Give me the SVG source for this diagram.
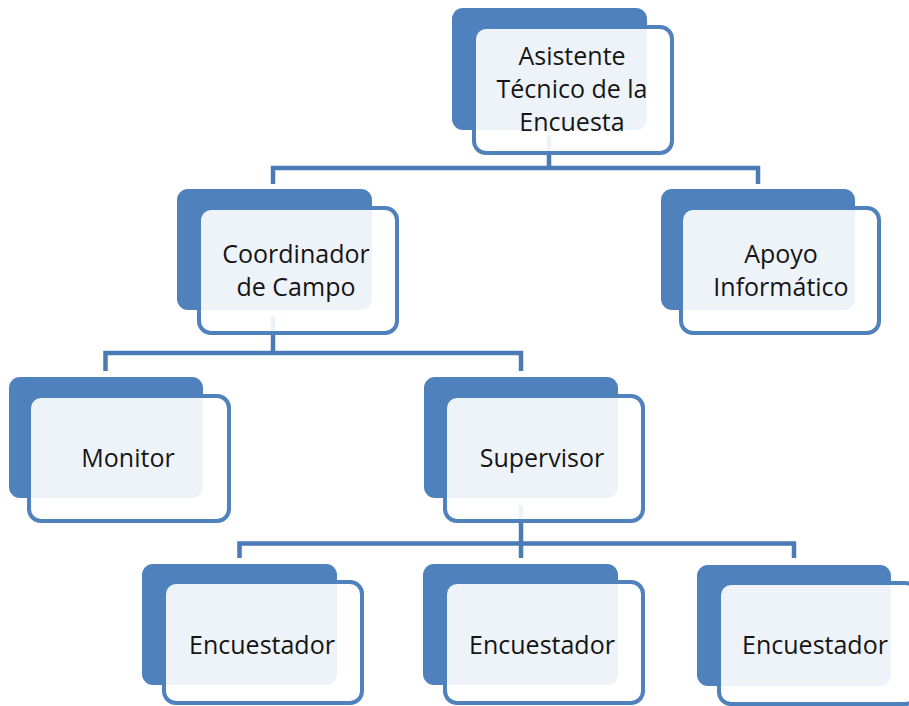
<svg xmlns="http://www.w3.org/2000/svg" width="909" height="706" viewBox="0 0 909 706">
<style>
.back{fill:#4F81BD}
.front{fill:#FFFFFF;fill-opacity:0.9;stroke:#4F81BD;stroke-width:4}
.lbl{font-family:"Open Sans","Noto Sans",sans-serif;font-size:25px;fill:#151515;text-anchor:middle}
.conn{fill:none;stroke:#4A7BB7;stroke-width:4.5;stroke-linejoin:miter}
</style>
<rect width="909" height="706" fill="#FFFFFF"/>
<g id="connectors">
<path class="conn" d="M549,135 V168"/>
<path class="conn" d="M273,184 V168 H758 V184"/>
<path class="conn" d="M273,316 V353"/>
<path class="conn" d="M105.5,371 V353 H521 V371"/>
<path class="conn" d="M521,505 V543.5"/>
<path class="conn" d="M239.5,558 V543.5 H794 V558"/>
<path class="conn" d="M521,543.5 V558"/>
</g>
<g id="n-asistente">
<rect class="back" x="452" y="8" width="195" height="122" rx="11"/>
<rect class="front" x="474" y="27" width="198" height="126" rx="12"/>
<text class="lbl" x="572" y="65">Asistente</text>
<text class="lbl" x="572" y="98">Técnico de la</text>
<text class="lbl" x="572" y="131">Encuesta</text>
</g>
<g id="n-coordinador">
<rect class="back" x="177" y="189" width="195" height="121" rx="11"/>
<rect class="front" x="199" y="208" width="198" height="125" rx="12"/>
<text class="lbl" x="296" y="263">Coordinador</text>
<text class="lbl" x="296" y="296">de Campo</text>
</g>
<g id="n-apoyo">
<rect class="back" x="661" y="189" width="194" height="121" rx="11"/>
<rect class="front" x="681" y="208" width="198" height="125" rx="12"/>
<text class="lbl" x="781" y="263">Apoyo</text>
<text class="lbl" x="781" y="296">Informático</text>
</g>
<g id="n-monitor">
<rect class="back" x="9" y="377" width="194" height="121" rx="11"/>
<rect class="front" x="29" y="396" width="200" height="125" rx="12"/>
<text class="lbl" x="128" y="467">Monitor</text>
</g>
<g id="n-supervisor">
<rect class="back" x="424" y="377" width="194" height="121" rx="11"/>
<rect class="front" x="445" y="396" width="198" height="125" rx="12"/>
<text class="lbl" x="542" y="467">Supervisor</text>
</g>
<g id="n-encuestador1">
<rect class="back" x="142" y="564" width="195" height="121" rx="11"/>
<rect class="front" x="164" y="582" width="198" height="121" rx="12"/>
<text class="lbl" x="262" y="654">Encuestador</text>
</g>
<g id="n-encuestador2">
<rect class="back" x="423" y="564" width="195" height="121" rx="11"/>
<rect class="front" x="445" y="582" width="198" height="121" rx="12"/>
<text class="lbl" x="542" y="654">Encuestador</text>
</g>
<g id="n-encuestador3">
<rect class="back" x="697" y="565" width="194" height="121" rx="11"/>
<rect class="front" x="719" y="583" width="198" height="121" rx="12"/>
<text class="lbl" x="815" y="654">Encuestador</text>
</g>
</svg>
